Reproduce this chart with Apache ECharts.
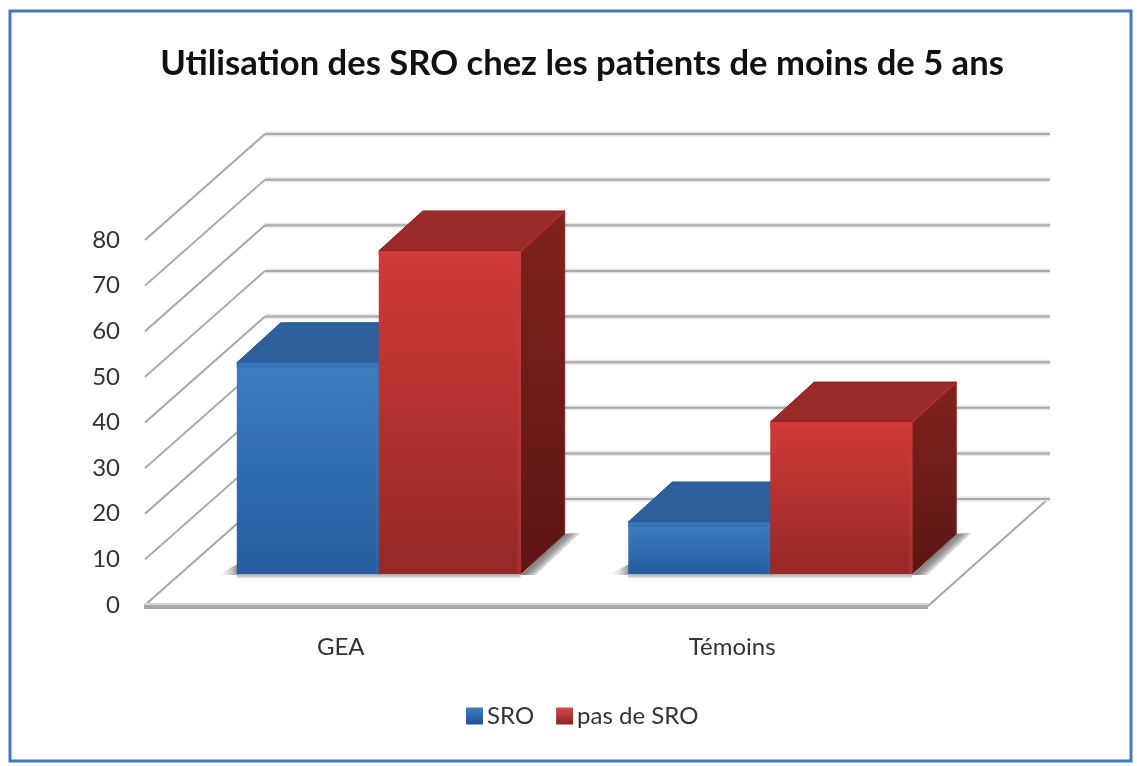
<!DOCTYPE html>
<html>
<head>
<meta charset="utf-8">
<style>html,body{margin:0;padding:0;background:#fff}#c{width:1137px;height:766px}</style>
<script src="https://cdn.jsdelivr.net/npm/echarts@6/dist/echarts.min.js"></script>
</head>
<body>
<div id="c"></div>
<script>
const titleText = 'Utilisation des SRO chez les patients de moins de 5 ans';
const categories = ['GEA', 'Témoins'];
const sroValues = [46.3, 11.4];
const pasDeSroValues = [70.8, 33.3];
const axisTicks = [0, 10, 20, 30, 40, 50, 60, 70, 80];

const WALL_DX = 120, WALL_DY = 106;
const BAR_SHIFT_X = 38, BAR_SHIFT_Y = 31, BAR_DEPTH_X = 44, BAR_DEPTH_Y = 40, BAR_RATIO = 0.3626;
const SHADOW_STEPS = [15, 12, 9, 6, 3];
const G = echarts.graphic;
const vGrad = (a, b) => new G.LinearGradient(0, 0, 0, 1, [{offset: 0, color: a}, {offset: 1, color: b}]);

const chart = echarts.init(document.getElementById('c'), null, {renderer: 'canvas'});

function renderWalls(params, api) {
  const cs = params.coordSys;
  const v = api.value(1);
  const y = api.coord([0, v])[1];
  const x0 = cs.x, x1 = cs.x + cs.width;
  const bx = x0 + WALL_DX, by = y - WALL_DY;
  const children = [];
  if (v === 0) {
    children.push({type: 'polygon', shape: {points: [[x0, y], [x1, y], [x1 + WALL_DX, by], [bx, by]]},
      style: {fill: '#fff', stroke: null}});
    children.push({type: 'line', shape: {x1: x1, y1: y + 1, x2: x1 + WALL_DX, y2: by},
      style: {stroke: '#a6a6a6', lineWidth: 2}});
  }
  children.push({type: 'line', shape: {x1: bx, y1: by, x2: x1 + WALL_DX + 2, y2: by},
    style: {stroke: '#e6e6e6', lineWidth: 5}});
  children.push({type: 'line', shape: {x1: bx, y1: by, x2: x1 + WALL_DX + 2, y2: by},
    style: {stroke: '#a9a9a9', lineWidth: 2}});
  children.push({type: 'line', shape: {x1: x0, y1: y, x2: bx, y2: by},
    style: {stroke: '#a6a6a6', lineWidth: 2}});
  if (v === 0) {
    children.push({type: 'rect', shape: {x: x0 - 1, y: y - 2, width: x1 - x0 + 1, height: 6},
      style: {fill: '#d6d6d6'}});
    children.push({type: 'rect', shape: {x: x0 - 1, y: y, width: x1 - x0 + 1, height: 4},
      style: {fill: '#a8a8a8'}});
  }
  return {type: 'group', children};
}

function renderShadow(params, api) {
  const i = api.value(0);
  const p = api.coord([i, 0]);
  const w = api.size([1, 0])[0] * BAR_RATIO;
  const xL = p[0] + BAR_SHIFT_X - w, xR = p[0] + BAR_SHIFT_X + w, y = p[1] - BAR_SHIFT_Y;
  const dx = BAR_DEPTH_X, dy = BAR_DEPTH_Y;
  const clear = 'rgba(255,255,255,0)';
  const children = [
    {type: 'polygon', shape: {points: [[xL + 1, y - 10], [xL + 1, y + 1], [xL - 20, y + 1]]},
      style: {fill: new G.LinearGradient(0, 0, 1, 0, [{offset: 0, color: clear}, {offset: 1, color: '#8c8c8c'}])}},
    {type: 'rect', shape: {x: xL, y: y, width: 2 * w, height: 4}, style: {fill: vGrad('#a9a9a9', '#e4e4e4')}}
  ];
  SHADOW_STEPS.forEach(k => children.push({
    type: 'polygon',
    shape: {points: [[xR, y + 1], [xR + dx, y - dy], [xR + dx + k, y - dy - 1], [xR + k, y + 1]]},
    style: {fill: 'rgba(100,100,100,0.28)'}
  }));
  return {type: 'group', children};
}

function barRenderer(side, pal) {
  return function (params, api) {
    const i = api.value(0), v = api.value(1);
    const top = api.coord([i, v]), base = api.coord([i, 0]);
    const w = api.size([1, 0])[0] * BAR_RATIO;
    const cx = base[0] + BAR_SHIFT_X;
    const xL = side < 0 ? cx - w : cx, xR = xL + w;
    const yB = base[1] - BAR_SHIFT_Y, yT = top[1] - BAR_SHIFT_Y;
    const dx = BAR_DEPTH_X, dy = BAR_DEPTH_Y;
    return {type: 'group', children: [
      {type: 'polygon', shape: {points: [[xR, yT], [xR + dx, yT - dy], [xR + dx, yB - dy], [xR, yB]]},
        style: {fill: vGrad(pal.sideA, pal.sideB), stroke: pal.edge, lineWidth: 1}},
      {type: 'polygon', shape: {points: [[xL, yT], [xL + dx, yT - dy], [xR + dx, yT - dy], [xR, yT]]},
        style: {fill: pal.top, stroke: pal.edge, lineWidth: 1}},
      {type: 'line', shape: {x1: xR, y1: yT, x2: xR + dx, y2: yT - dy},
        style: {stroke: pal.ridge, lineWidth: 2}},
      {type: 'rect', shape: {x: xL, y: yT, width: w, height: yB - yT},
        style: {fill: vGrad(pal.frontA, pal.frontB)}},
      {type: 'rect', shape: {x: xL, y: yT, width: w, height: 5}, style: {fill: pal.band}},
      {type: 'rect', shape: {x: xR - 3, y: yT, width: 3, height: yB - yT}, style: {fill: pal.band, opacity: 0.35}}
    ]};
  };
}

const bluePal = {frontA: '#3f7dc1', frontB: '#245c9f', sideA: '#2a5b98', sideB: '#1e4778', top: '#2c5f9c',
  edge: '#1f5391', ridge: '#2c5f9c', band: '#3573b8'};
const redPal = {frontA: '#d03a38', frontB: '#962928', sideA: '#80231e', sideB: '#5c1513', top: '#9a2a29',
  edge: '#8a1f1d', ridge: '#a92e2b', band: '#d23b39'};

const option = {
  animation: false,
  backgroundColor: '#fff',
  title: {
    text: titleText, left: 577, top: 41, textAlign: 'center',
    textStyle: {fontFamily: 'Lato', fontSize: 34.6, fontWeight: 700, color: '#111'}
  },
  legend: {
    data: ['SRO', 'pas de SRO'], left: 466, top: 704, padding: 0, itemWidth: 17, itemHeight: 17, itemGap: 22,
    icon: 'rect',
    textStyle: {fontFamily: 'Lato', fontSize: 24, color: '#333', padding: [0, 0, 0, -1]}
  },
  grid: {left: 145, right: 209, top: 240, bottom: 161},
  xAxis: {
    type: 'category', data: categories,
    axisLine: {show: false}, axisTick: {show: false}, splitLine: {show: false},
    axisLabel: {fontFamily: 'Lato', fontSize: 24, color: '#333', margin: 30}
  },
  yAxis: {
    type: 'value', min: 0, max: 80, interval: 10,
    axisLine: {show: false}, axisTick: {show: false}, splitLine: {show: false},
    axisLabel: {fontFamily: 'Lato', fontSize: 24, color: '#333', margin: 25}
  },
  graphic: [{
    type: 'rect', silent: true, z: -1,
    shape: {x: 10, y: 11, width: 1121, height: 750},
    style: {fill: 'none', stroke: '#4379bd', lineWidth: 3}
  }],
  series: [
    {name: 'walls', type: 'custom', renderItem: renderWalls, z: 1, silent: true,
      data: axisTicks.map(t => [0, t]), encode: {x: 0, y: 1}},
    {name: 'floorShadow', type: 'custom', renderItem: renderShadow, z: 2, silent: true,
      data: categories.map((c, i) => [i, 0]), encode: {x: 0, y: 1}},
    {name: 'SRO', type: 'custom', renderItem: barRenderer(-1, bluePal), z: 3,
      itemStyle: {color: vGrad('#3f7dc1', '#1f5391')},
      data: sroValues.map((v, i) => [i, v]), encode: {x: 0, y: 1}},
    {name: 'pas de SRO', type: 'custom', renderItem: barRenderer(1, redPal), z: 4,
      itemStyle: {color: vGrad('#d64a48', '#8a2423')},
      data: pasDeSroValues.map((v, i) => [i, v]), encode: {x: 0, y: 1}}
  ]
};
chart.setOption(option);
</script>
</body>
</html>
